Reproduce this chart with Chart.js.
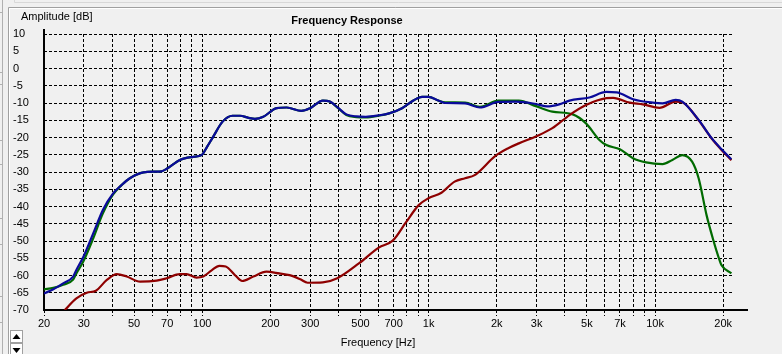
<!DOCTYPE html>
<html>
<head>
<meta charset="utf-8">
<script src="https://cdn.jsdelivr.net/npm/chart.js@4/dist/chart.umd.min.js"></script>
<style>
html,body{margin:0;padding:0;background:#f0f0f0;}
canvas{display:block;}
</style>
</head>
<body>
<canvas id="c" width="782" height="354"></canvas>
<script>
// ---- data ----
const chartTitle = "Frequency Response";
const yAxisTitle = "Amplitude [dB]";
const xAxisTitle = "Frequency [Hz]";

const xGridValues = [20,30,40,50,60,70,80,90,100,200,300,400,500,600,700,800,900,1000,2000,3000,4000,5000,6000,7000,8000,9000,10000,20000];
const xLabelValues = [20,30,50,70,100,200,300,500,700,1000,2000,3000,5000,7000,10000,20000];
const xLabelTexts  = ["20","30","50","70","100","200","300","500","700","1k","2k","3k","5k","7k","10k","20k"];

const sumFreq = [20,22,24.3,26.9,27.8,29.9,33,36.4,40.4,44,47.9,55,62,66,70,79.6,91.2,99.3,105,111.7,123,136,147,160,171,186,213,236,274,300,341,366,400,433,480,528,600,669,763,860,935,998,1104,1182,1448,1685,2034,2433,2976,3347,3771,4190,5130,6096,6760,7991,9774,10800,12330,13190,15580,17790,19670,21740];
const sumDb   = [-65.2,-64.0,-62.3,-60.3,-58.4,-54.5,-47.8,-41.0,-36.2,-33.8,-31.8,-30.1,-29.9,-29.8,-29.0,-26.5,-25.6,-25.1,-22.7,-19.8,-15.4,-13.7,-13.7,-14.3,-14.6,-14.0,-11.5,-11.3,-12.3,-11.5,-9.3,-9.6,-11.5,-13.3,-13.9,-14.0,-13.6,-13.0,-11.5,-9.2,-8.2,-8.2,-9.3,-10.0,-10.1,-11.3,-9.7,-9.6,-10.3,-11.0,-10.4,-9.3,-8.4,-6.8,-6.9,-8.9,-9.9,-10.1,-9.1,-9.6,-14.9,-20.2,-23.4,-26.3];

const hiFreq = [24.7,27.8,30.9,33.9,37.9,41.9,46.4,53.2,62.9,69.6,79.6,85.2,94.4,101,110,119,127,140,150,168,192,219,243,271,292,341,395,492,602,694,792,904,998,1139,1302,1448,1597,1966,2247,2503,2976,3520,4190,4955,6096,6530,7730,8830,10450,12330,13190,15580,17790,19670,21740];
const hiDb   = [-70,-66.6,-65.0,-64.4,-61.3,-59.6,-60.3,-61.8,-61.5,-60.8,-59.6,-59.6,-60.6,-60.3,-58.5,-57.2,-57.4,-60.0,-61.6,-60.3,-58.9,-59.4,-59.9,-61.1,-62.1,-62.0,-60.8,-56.5,-51.9,-49.9,-44.7,-39.6,-37.6,-36.0,-32.8,-31.8,-30.9,-25.4,-23.1,-21.7,-19.7,-17.3,-13.5,-10.6,-8.6,-8.5,-9.9,-10.4,-11.4,-9.6,-9.8,-15.0,-20.3,-23.6,-26.6];

const loFreq = [20,22,24.3,26.9,27.8,29.9,33,36.4,40.4,44,47.9,55,62,66,70,79.6,91.2,99.3,105,111.7,123,136,147,160,171,186,213,236,274,300,341,366,400,433,480,528,600,669,763,860,935,998,1104,1182,1448,1685,2034,2503,2976,3520,4330,4955,5680,6096,6990,7991,9130,10800,11930,13190,14580,15580,16890,18080,19040,19670,21740];
const loDb   = [-64.0,-63.6,-62.7,-61.2,-59.4,-55.8,-49.2,-42.0,-36.5,-33.8,-31.8,-30.1,-29.9,-29.8,-29.0,-26.5,-25.6,-25.1,-22.7,-19.8,-15.4,-13.7,-13.7,-14.3,-14.6,-14.0,-11.5,-11.3,-12.3,-11.5,-9.3,-9.6,-11.6,-13.5,-14.1,-14.2,-13.7,-13.0,-11.5,-9.2,-8.2,-8.2,-9.3,-9.8,-9.9,-11.1,-9.3,-9.3,-10.9,-12.5,-13.3,-15.9,-20.7,-22.2,-23.4,-26.0,-27.2,-27.7,-26.5,-25.1,-27.0,-31.8,-42.5,-49.7,-54.5,-57.0,-59.4];

const toPts = (f, d) => f.map((v, i) => ({x: v, y: d[i]}));

const decor = {
  id: 'decor',
  beforeDraw(chart) {
    const ctx = chart.ctx;
    ctx.save();
    ctx.fillStyle = '#f0f0f0';
    ctx.fillRect(0, 0, chart.width, chart.height);
    // window frame bits
    ctx.lineWidth = 1;
    ctx.strokeStyle = '#d8d8d8';
    ctx.beginPath(); ctx.moveTo(14.5, 0); ctx.lineTo(14.5, 2.5); ctx.lineTo(782, 2.5); ctx.stroke();
    ctx.strokeStyle = '#a0a0a0';
    ctx.beginPath(); ctx.moveTo(8.5, 354); ctx.lineTo(8.5, 7.5); ctx.lineTo(782, 7.5); ctx.stroke();
    ctx.strokeStyle = '#ffffff';
    ctx.beginPath(); ctx.moveTo(9.5, 354); ctx.lineTo(9.5, 8.5); ctx.lineTo(782, 8.5); ctx.stroke();
    ctx.strokeStyle = '#b0b0b0';
    ctx.beginPath();
    [12, 72, 84, 140, 164, 218, 244, 296, 322].forEach(y => { ctx.moveTo(0, y + 0.5); ctx.lineTo(3, y + 0.5); });
    ctx.moveTo(2.5, 0); ctx.lineTo(2.5, 354);
    ctx.stroke();
    // scroll buttons
    ctx.fillStyle = '#ffffff';
    ctx.fillRect(10, 330, 13, 24);
    ctx.strokeStyle = '#a0a0a0';
    ctx.strokeRect(10.5, 330.5, 12, 12);
    ctx.strokeRect(10.5, 343.5, 12, 12);
    ctx.fillStyle = '#000';
    ctx.beginPath(); ctx.moveTo(12.5, 339); ctx.lineTo(20.5, 339); ctx.lineTo(16.5, 334); ctx.closePath(); ctx.fill();
    ctx.beginPath(); ctx.moveTo(12.5, 348); ctx.lineTo(20.5, 348); ctx.lineTo(16.5, 353); ctx.closePath(); ctx.fill();
    // texts
    ctx.fillStyle = '#000';
    ctx.textBaseline = 'middle';
    ctx.font = '11px "Liberation Sans", Arial, sans-serif';
    ctx.textAlign = 'left';
    ctx.fillText(yAxisTitle, 21, 17);
    ctx.textAlign = 'center';
    ctx.fillText(xAxisTitle, 378, 343);
    ctx.font = 'bold 11px "Liberation Sans", Arial, sans-serif';
    ctx.fillText(chartTitle, 347, 21);
    ctx.restore();
  },
  beforeDatasetsDraw(chart) {
    const ctx = chart.ctx;
    const a = chart.chartArea;
    ctx.save();
    ctx.strokeStyle = '#000';
    ctx.lineWidth = 2;
    ctx.setLineDash([]);
    ctx.beginPath();
    ctx.moveTo(a.left, a.top - 5);
    ctx.lineTo(a.left, a.bottom);
    ctx.lineTo(a.right + 15, a.bottom);
    ctx.stroke();
    ctx.restore();
  }
};

new Chart(document.getElementById('c'), {
  type: 'line',
  data: {
    datasets: [
      {label: 'Sum', data: toPts(sumFreq, sumDb), borderColor: '#0a0a9a'},
      {label: 'High', data: toPts(hiFreq, hiDb), borderColor: '#8e0000'},
      {label: 'Low', data: toPts(loFreq, loDb), borderColor: '#006a00'}
    ]
  },
  options: {
    responsive: false,
    devicePixelRatio: 1,
    animation: false,
    events: [],
    layout: {padding: {left: 13, top: 34, right: 49, bottom: 0}},
    elements: {
      point: {radius: 0},
      line: {borderWidth: 2.2, cubicInterpolationMode: 'monotone', fill: false}
    },
    plugins: {legend: {display: false}, title: {display: false}, tooltip: {enabled: false}},
    scales: {
      x: {
        type: 'logarithmic',
        min: 20,
        max: 22100,
        afterBuildTicks: s => { s.ticks = xGridValues.map(v => ({value: v})); },
        afterFit: s => { s.height = 44; },
        border: {display: false, dash: [3, 2]},
        grid: {color: '#000', lineWidth: 1, drawTicks: true, tickLength: 6, tickColor: '#000', tickBorderDash: [3, 2]},
        ticks: {
          autoSkip: false, maxRotation: 0, padding: 1, color: '#000',
          font: {family: '"Liberation Sans", Arial, sans-serif', size: 11},
          callback: v => { const i = xLabelValues.indexOf(v); return i >= 0 ? xLabelTexts[i] : ''; }
        }
      },
      y: {
        type: 'linear',
        min: -70,
        max: 10,
        afterFit: s => { s.width = 31; },
        border: {display: false, dash: [3, 2]},
        grid: {color: '#000', lineWidth: 1, drawTicks: false},
        ticks: {
          stepSize: 5, crossAlign: 'far', padding: 0, color: '#000',
          font: {family: '"Liberation Sans", Arial, sans-serif', size: 11}
        }
      }
    }
  },
  plugins: [decor]
});
</script>
</body>
</html>
